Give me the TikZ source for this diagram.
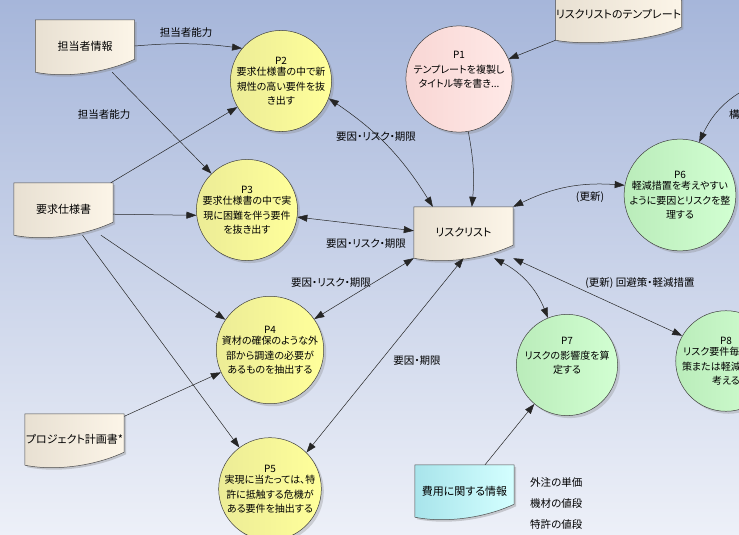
\documentclass[tikz,border=0pt]{standalone}
\usepackage{fontspec}
\setmainfont{Noto Sans CJK JP}[RawFeature=+palt]
\usepackage{tikz}
\usetikzlibrary{arrows.meta,shadows}
\definecolor{bgtop}{RGB}{166,182,218}
\definecolor{bgbot}{RGB}{237,240,248}
\definecolor{docL}{RGB}{232,224,210}
\definecolor{docR}{RGB}{252,245,232}
\definecolor{yelL}{RGB}{236,236,150}
\definecolor{yelR}{RGB}{255,255,155}
\definecolor{pinkL}{RGB}{248,214,212}
\definecolor{pinkR}{RGB}{255,233,231}
\definecolor{grnL}{RGB}{186,236,186}
\definecolor{grnR}{RGB}{210,255,210}
\definecolor{cyanL}{RGB}{168,228,235}
\definecolor{cyanR}{RGB}{212,255,255}

\pgfdeclarelayer{bg}
\pgfdeclarelayer{shapes}
\pgfsetlayers{bg,shapes,main}

% document outline behind a node
\newcommand{\docshape}[2]{%
  \begin{pgfonlayer}{shapes}
    \path[draw=black!70, line width=.5pt, #2,
      drop shadow={shadow xshift=2pt, shadow yshift=-2pt, opacity=.35}]
      (#1.north west) -- (#1.north east) -- ([yshift=13pt]#1.south east)
      .. controls +(-30pt,-14pt) and +(30pt,-6pt) .. (#1.south west) -- cycle;
  \end{pgfonlayer}}

\begin{document}
\begin{tikzpicture}[x=1pt, y=-1pt,
    proc/.style={circle, draw=black!75, line width=.5pt, minimum size=97pt,
      inner sep=0pt, align=center, font=\fontsize{10}{14.5}\selectfont,
      drop shadow={shadow xshift=2.5pt, shadow yshift=-2.5pt, opacity=.3}},
    yel/.style={left color=yelL, right color=yelR},
    pink/.style={left color=pinkL, right color=pinkR},
    grn/.style={left color=grnL, right color=grnR},
    docnode/.style={minimum width=99pt, minimum height=52pt, inner sep=0pt,
      font=\fontsize{11}{13}\selectfont},
    lbl/.style={font=\fontsize{10.5}{12}\selectfont, inner sep=1pt},
    flow/.style={-{Triangle[length=10pt,width=7pt]}, line width=.5pt, black!85},
    flow2/.style={{Triangle[length=10pt,width=7pt]}-{Triangle[length=10pt,width=7pt]},
      line width=.5pt, black!85}]

    \useasboundingbox (0,0) rectangle (739,535);
    \begin{pgfonlayer}{bg}
        \shade[top color=bgtop, bottom color=bgbot] (0,0) rectangle (739,535);
    \end{pgfonlayer}

    % documents
    \node[docnode] (tanto) at (85,46) {担当者情報};
    \node[docnode] (yokyu) at (63.5,209) {要求仕様書};
    \node[docnode, minimum height=51pt] (keikaku) at (74.5,439.5) {プロジェクト計画書*};
    \node[docnode] (hiyo) at (464.5,491) {費用に関する情報};
    \node[docnode, minimum height=51pt] (risk) at (463.5,232.5) {リスクリスト};
    \node[docnode, minimum width=121pt] (tmpl) at (618.5,14) {リスクリストのテンプレート};
    \docshape{tanto}{left color=docL, right color=docR}
    \docshape{yokyu}{left color=docL, right color=docR}
    \docshape{keikaku}{left color=docL, right color=docR}
    \docshape{hiyo}{left color=cyanL, right color=cyanR}
    \docshape{risk}{left color=docL, right color=docR}
    \docshape{tmpl}{left color=docL, right color=docR}

    % processes
    \node[proc, pink] (p1) at (459,79) {P1\\テンプレートを複製し\\タイトル等を書き...\\\strut};
    \node[proc, yel] (p2) at (281,81) {P2\\[-3pt]要求仕様書の中で新\\規性の高い要件を抜\\き出す};
    \node[proc, yel] (p3) at (247,210) {P3\\[-3pt]要求仕様書の中で実\\現に困難を伴う要件\\を抜き出す};
    \node[proc, yel] (p4) at (270,350) {P4\\[-3pt]資材の確保のような外\\部から調達の必要が\\あるものを抽出する};
    \node[proc, yel] (p5) at (270,489) {P5\\[-3pt]実現に当たっては、特\\許に抵触する危機が\\ある要件を抽出する};
    \node[proc, grn] (p6) at (680,195) {P6\\[-3pt]軽減措置を考えやすい\\ように要因とリスクを整\\理する};
    \node[proc, grn] (p7) at (567,365) {P7\\リスクの影響度を算\\定する\\\strut};
    \node[proc, grn] (p8) at (726,361) {P8\\[-3pt]リスク要件毎に回避\\策または軽減措置を\\考える};
    \coordinate (p6src) at (775,78);

    % inputs
    \draw[flow] (tanto.east) to[bend left=6] (p2.140);
    \draw[flow] (tanto.-44) -- (p3);
    \draw[flow] (yokyu.29) -- (p2);
    \draw[flow] (yokyu.-6) -- (p3.186);
    \draw[flow] (yokyu.-35) -- (p4);
    \draw[flow] (yokyu.-54) -- (p5);
    \draw[flow] (keikaku.25) -- (p4);
    \draw[flow] (tmpl.south west) -- (p1);
    \draw[flow] (p1.-80) to[bend left=8] (risk.72);
    \draw[flow] (hiyo.52) -- (p7.230);
    \draw[flow] (p6src) to[bend right=25] (p6.70);

    % risk list updates
    \draw[flow2] (p2.-20) to[bend left=12] (risk.140);
    \draw[flow2] (p3.-8) -- (risk.178);
    \draw[flow2] (p4.35) -- (risk.south west);
    \draw[flow2] (p5.north east) -- (risk.south);
    \draw[flow2] (risk.-40) to[bend left=20] (p7.112);
    \draw[flow2] (risk.south east) -- (p8.150);
    \draw[flow2] (risk.north east) to[bend left=15] (p6.170);

    % labels
    \node[lbl] (l1) at (186,33) {担当者能力};
    \node[lbl] (l2) at (104,115) {担当者能力};
    \node[lbl] (l3) at (376,137) {要因・リスク・期限};
    \node[lbl] (l4) at (366,244) {要因・リスク・期限};
    \node[lbl] (l5) at (331,283) {要因・リスク・期限};
    \node[lbl] (l6) at (417,361) {要因・期限};
    \node[lbl] (l7) at (590,197) {(更新)};
    \node[lbl] (l8) at (640,283) {(更新) 回避策・軽減措置};
    \node[lbl, anchor=west] (l9) at (728,115) {構};

    % cost notes
    \foreach \t [count=\n] in {外注の単価,機材の値段,特許の値段} {
        \node[lbl, anchor=west] (n\n) at (529,462+21*\n) {\t};
    }
\end{tikzpicture}
\end{document}
